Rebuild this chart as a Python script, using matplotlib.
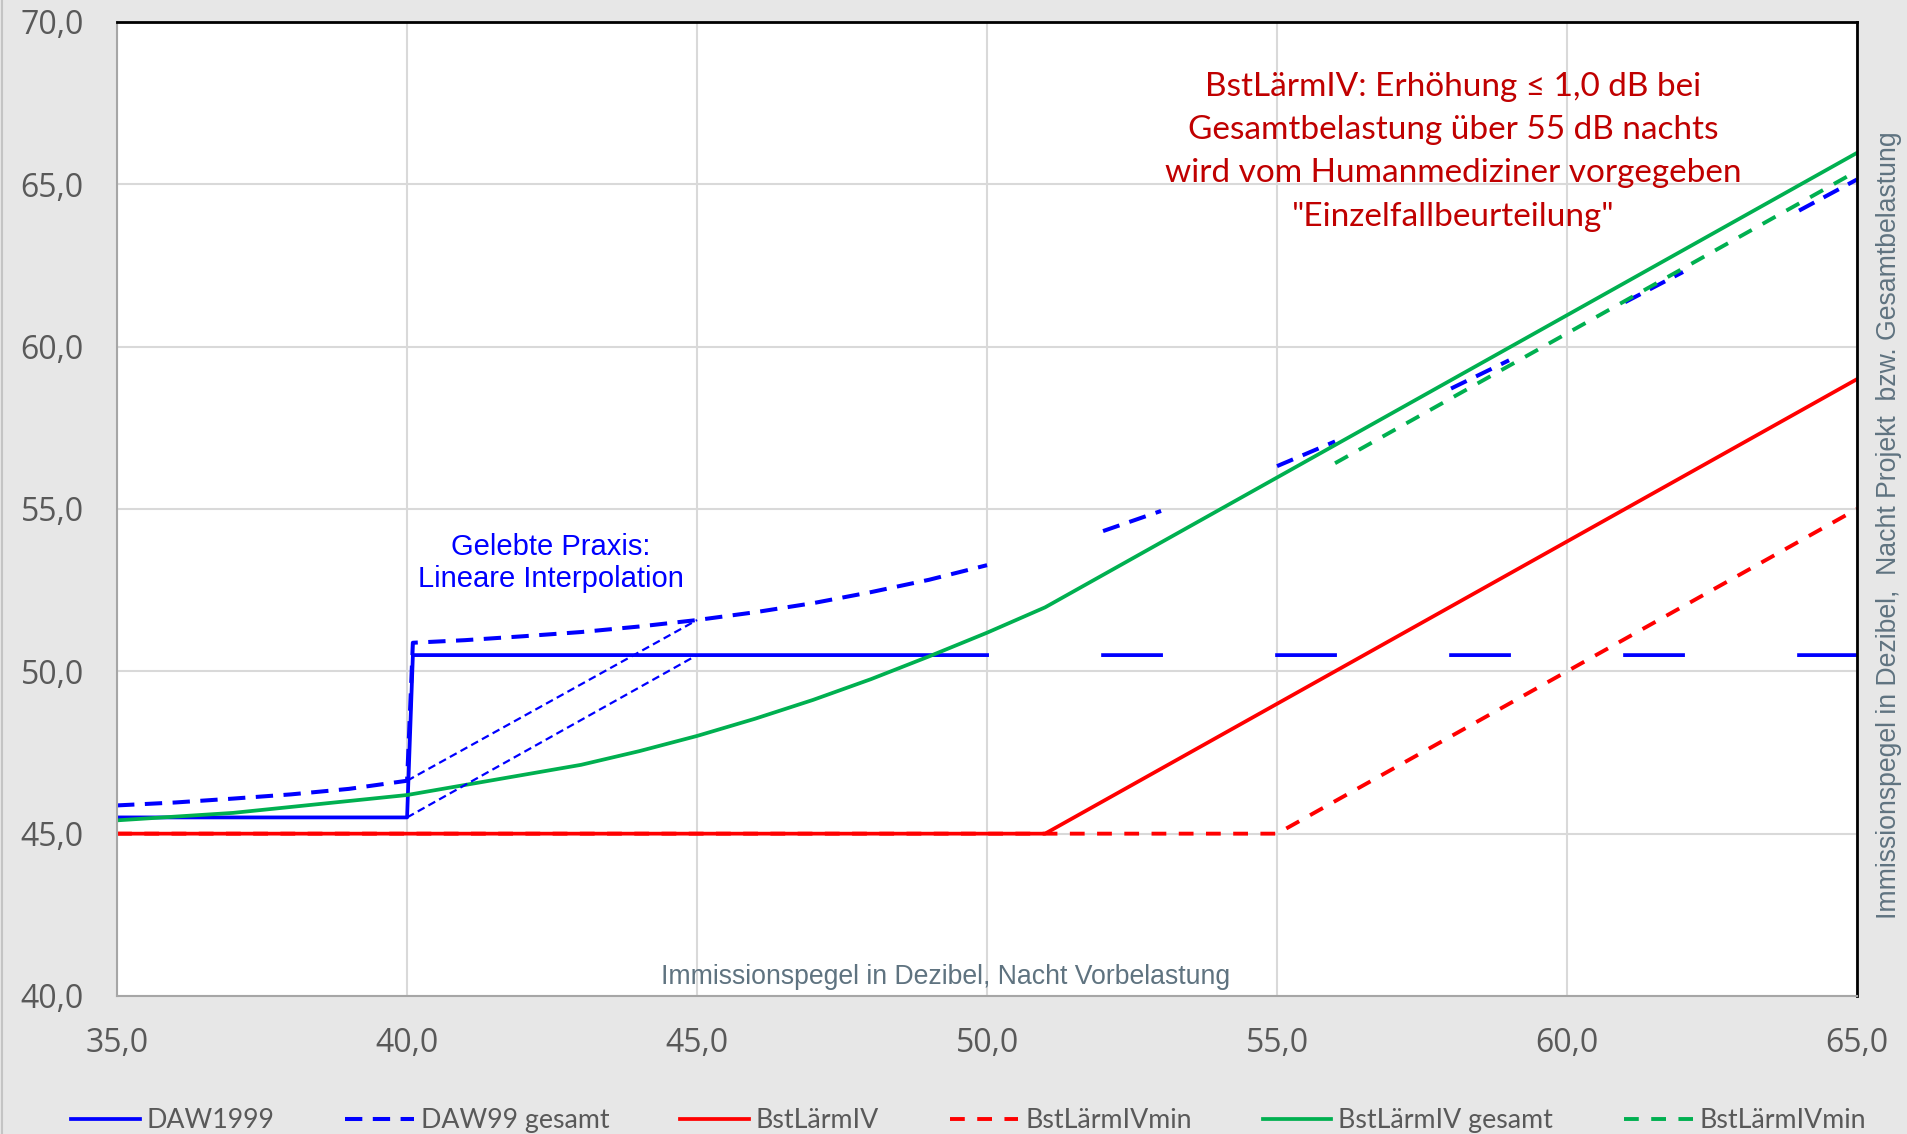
import numpy as np
import matplotlib
matplotlib.use("Agg")
import matplotlib.pyplot as plt
from matplotlib.lines import Line2D

nan = np.nan

# DAW1999 (Vorbelastung -> zulaessiger Projektpegel)
x_daw = [35, 36, 37, 38, 39, 40, 40.1, 41, 42, 43, 44, 45, 46, 47, 48, 49, 50,
         51, 52, 53, 54, 55, 56, 57, 58, 59, 60, 61, 62, 63, 64, 65]
daw1999 = [45.5, 45.5, 45.5, 45.5, 45.5, 45.5, 50.5, 50.5, 50.5, 50.5, 50.5, 50.5,
           50.5, 50.5, 50.5, 50.5, 50.5, nan, 50.5, 50.5, nan, 50.5, 50.5, nan,
           50.5, 50.5, nan, 50.5, 50.5, nan, 50.5, 50.5]
daw99_gesamt = [45.87, 45.96, 46.08, 46.21, 46.38, 46.63, 50.88, 50.96, 51.08, 51.21,
                51.38, 51.58, 51.82, 52.10, 52.44, 52.82, 53.27, nan, 54.32, 54.94,
                nan, 56.32, 57.08, nan, 58.71, 59.58, nan, 61.37, 62.30, nan,
                64.19, 65.15]

# BstLaermIV
x_bst = [35, 51, 65]
bst = [45.0, 45.0, 59.0]
x_bstmin = [35, 55, 65]
bstmin = [45.0, 45.0, 55.0]

x_ges = [35, 37, 40, 43, 44, 45, 46, 47, 48, 49, 50, 51, 65]
bst_gesamt = [45.41, 45.64, 46.19, 47.12, 47.54, 48.01, 48.54, 49.12, 49.76, 50.46,
              51.19, 51.97, 65.97]
x_gesmin = [56, 65]
bstmin_gesamt = [56.41, 65.41]

# lineare Interpolation (gelebte Praxis)
x_interp = [40, 45]
interp_daw = [45.5, 50.5]
interp_ges = [46.63, 51.58]

ticks = [35, 40, 45, 50, 55, 60, 65]
yticks = [40, 45, 50, 55, 60, 65, 70]

blue = "#0000FF"
red = "#FF0000"
green = "#00B050"
grey = "#595959"
slate = "#5F7380"

fig = plt.figure(figsize=(19.07, 11.34), dpi=100)
fig.patch.set_facecolor("#E7E7E7")
fig.add_artist(Line2D([0.0012, 0.0012], [0, 1], transform=fig.transFigure,
                      color="#C4C4C4", lw=1.5))
ax = fig.add_axes([0.0614, 0.1217, 0.9124, 0.8589])
ax.set_facecolor("white")

ax.plot(x_daw, daw1999, color=blue, lw=2.7, label="DAW1999")
ax.plot(x_daw, daw99_gesamt, color=blue, lw=2.9, dashes=(4.3, 2.6), label="DAW99 gesamt")
ax.plot(x_bst, bst, color=red, lw=2.7, label="BstLärmIV")
ax.plot(x_bstmin, bstmin, color=red, lw=2.8, dashes=(3.8, 3.2), label="BstLärmIVmin")
ax.plot(x_ges, bst_gesamt, color=green, lw=2.7, label="BstLärmIV gesamt")
ax.plot(x_gesmin, bstmin_gesamt, color=green, lw=2.8, dashes=(3.8, 3.2), label="BstLärmIVmin")
ax.plot(x_interp, interp_daw, color=blue, lw=1.6, dashes=(3.5, 2))
ax.plot(x_interp, interp_ges, color=blue, lw=1.6, dashes=(3.5, 2))

ax.set_xlim(35, 65)
ax.set_ylim(40, 70)
ax.set_xticks(ticks)
ax.set_yticks(yticks)
ax.set_xticklabels([f"{t:.1f}".replace(".", ",") for t in ticks])
ax.set_yticklabels([f"{t:.1f}".replace(".", ",") for t in yticks])
ax.tick_params(length=0, labelsize=23, labelcolor=grey)
ax.tick_params(axis="x", pad=22)
ax.tick_params(axis="y", pad=24)
for lab in ax.get_xticklabels() + ax.get_yticklabels():
    lab.set_family("Open Sans")
ax.grid(True, color="#D9D9D9", lw=1.5)
ax.set_axisbelow(True)

ax.spines["top"].set_color("black")
ax.spines["top"].set_linewidth(2)
ax.spines["right"].set_color("black")
ax.spines["right"].set_linewidth(2)
ax.spines["left"].set_color("#A6A6A6")
ax.spines["left"].set_linewidth(1.5)
ax.spines["bottom"].set_color("#A6A6A6")
ax.spines["bottom"].set_linewidth(1.5)

ax.text(42.48, 53.33, "Gelebte Praxis:\nLineare Interpolation", color=blue,
        fontsize=21, family="Liberation Sans", ha="center", va="center")
ax.text(58.04, 66.0,
        "BstLärmIV: Erhöhung ≤ 1,0 dB bei\nGesamtbelastung über 55 dB nachts\n"
        "wird vom Humanmediziner vorgegeben\n\"Einzelfallbeurteilung\"",
        color="#C00000", fontsize=24, family=["Lato", "DejaVu Sans"],
        ha="center", va="center", linespacing=1.55)
ax.text(0.476, 0.02, "Immissionspegel in Dezibel, Nacht Vorbelastung", color=slate,
        fontsize=19.2, family="Liberation Sans", ha="center", va="center",
        transform=ax.transAxes)
fig.text(0.9905, 0.537,
         "Immissionspegel in Dezibel,  Nacht Projekt  bzw. Gesamtbelastung",
         color=slate, fontsize=19.2, family="Liberation Sans", rotation=90,
         ha="center", va="center")

leg = fig.legend(loc="center", bbox_to_anchor=(0.508, 0.012), ncol=6, frameon=False,
                 handlelength=2.55, handletextpad=0.26, columnspacing=2.65,
                 prop={"family": "Lato", "size": 19.3})
for t in leg.get_texts():
    t.set_color(grey)

fig.savefig("out.png", dpi=100, facecolor=fig.get_facecolor())
